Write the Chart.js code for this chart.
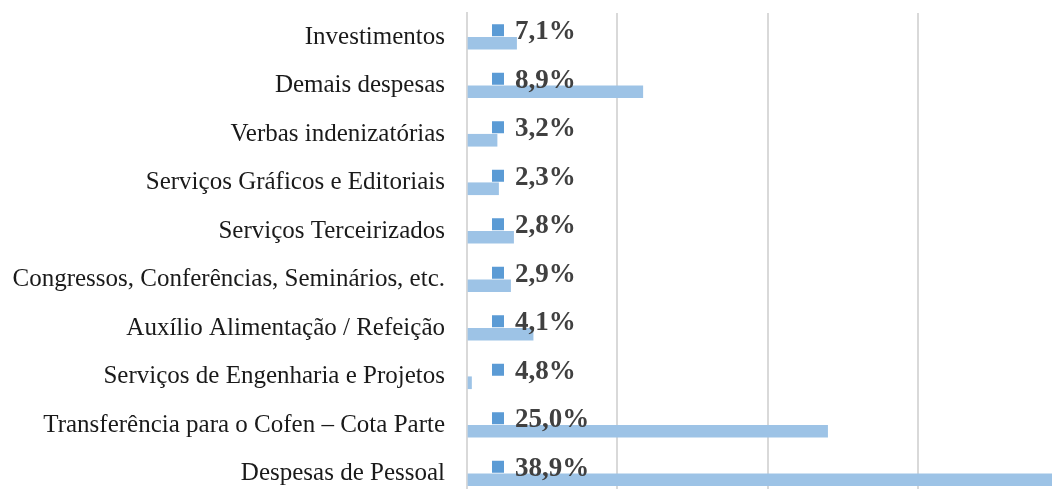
<!DOCTYPE html>
<html>
<head>
<meta charset="utf-8">
<title>Despesas</title>
<script src="https://cdn.jsdelivr.net/npm/chart.js@4.4.1/dist/chart.umd.min.js"></script>
<style>
    html, body { margin: 0; padding: 0; background: #fff; overflow: hidden; }
    #box { position: absolute; left: 0; top: 0; width: 1068px; height: 498px; }
</style>
</head>
<body>
<div id="box"><canvas id="myChart"></canvas></div>
<script>
// categorias (de cima para baixo)
const categorias = [
    "Investimentos",
    "Demais despesas",
    "Verbas indenizatórias",
    "Serviços Gráficos e Editoriais",
    "Serviços Terceirizados",
    "Congressos, Conferências, Seminários, etc.",
    "Auxílio Alimentação / Refeição",
    "Serviços de Engenharia e Projetos",
    "Transferência para o Cofen – Cota Parte",
    "Despesas de Pessoal"
];
// percentuais mostrados nos rótulos
const percentuais = [7.1, 8.9, 3.2, 2.3, 2.8, 2.9, 4.1, 4.8, 25.0, 38.9];
// comprimento das barras (1 unidade = 1 linha de grade)
const valores = [0.33, 1.17, 0.20, 0.21, 0.31, 0.29, 0.44, 0.03, 2.40, 4.30];

//plugin que desenha o quadradinho e o texto do percentual
const rotulos = {
    id: 'rotulos',
    afterDatasetsDraw(chart) {
        const ctx = chart.ctx;
        const meta = chart.getDatasetMeta(0);
        ctx.save();
        ctx.font = 'bold 27px "Liberation Serif"';
        ctx.textAlign = 'left';
        ctx.textBaseline = 'middle';
        meta.data.forEach((el, i) => {
            const x0 = el.base;
            ctx.fillStyle = '#5B9BD5';
            ctx.fillRect(x0 + 25, el.y - 7, 12, 12);
            ctx.fillStyle = '#404040';
            ctx.fillText(percentuais[i].toFixed(1).replace('.', ',') + '%', x0 + 48, el.y + 1);
        });
        ctx.restore();
    }
};

const ctx = document.getElementById('myChart').getContext('2d');
const chart = new Chart(ctx, {
    type: 'bar',
    data: {
        labels: categorias,
        datasets: [{
            label: 'Percentual',
            data: percentuais,
            xAxisID: 'x2',
            backgroundColor: 'rgba(0,0,0,0)',
            barThickness: 12
        }, {
            label: 'Valor',
            data: valores,
            xAxisID: 'x',
            backgroundColor: '#9DC3E6',
            barThickness: 12
        }]
    },
    options: {
        indexAxis: 'y',
        responsive: true,
        maintainAspectRatio: false,
        animation: false,
        devicePixelRatio: 1,
        layout: { padding: { top: 13, right: 0, bottom: 0, left: 0 } },
        plugins: {
            legend: { display: false },
            tooltip: { enabled: false }
        },
        scales: {
            x: {
                min: 0,
                max: 4,
                ticks: { display: false, stepSize: 1 },
                grid: { color: '#D9D9D9', lineWidth: 2, drawTicks: false },
                border: { display: false }
            },
            x2: {
                display: false,
                min: 0,
                max: 100
            },
            y: {
                afterFit: function (scale) {
                    scale.width = 467;
                    scale.paddingTop = 0;
                    scale.paddingBottom = 0;
                },
                ticks: {
                    padding: 22,
                    color: '#1a1a1a',
                    font: { family: '"Liberation Serif"', size: 25 }
                },
                grid: { display: false, drawTicks: false },
                border: { display: true, color: '#D9D9D9', width: 2 }
            }
        }
    },
    plugins: [rotulos]
});
</script>
</body>
</html>
